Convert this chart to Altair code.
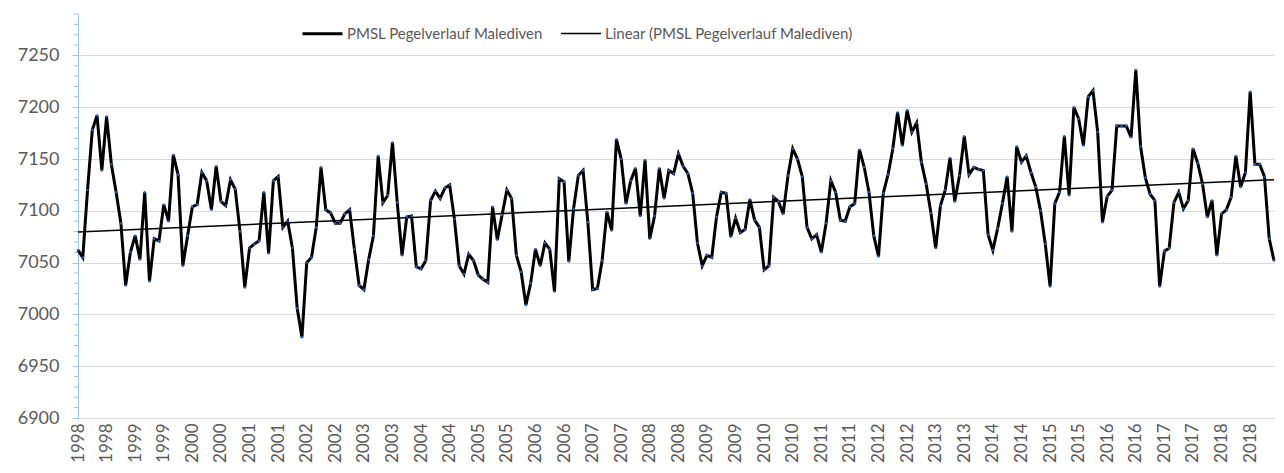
import altair as alt
import pandas as pd

# Monthly mean sea level (PMSL), Maldives, Jan 1998 - Dec 2018
pmsl = [
    7062, 7055, 7120, 7178, 7192, 7139, 7191, 7145, 7118, 7088, 7028, 7060,
    7076, 7053, 7118, 7032, 7073, 7071, 7106, 7090, 7154, 7135, 7047, 7076,
    7104, 7106, 7137, 7129, 7101, 7143, 7109, 7105, 7130, 7121, 7080, 7026,
    7064, 7068, 7071, 7118, 7059, 7129, 7133, 7084, 7090, 7064, 7006, 6978,
    7050, 7055, 7084, 7142, 7101, 7098, 7088, 7088, 7097, 7101, 7063, 7028,
    7024, 7053, 7076, 7153, 7108, 7115, 7166, 7108, 7057, 7094, 7095, 7046,
    7044, 7052, 7110, 7119, 7112, 7122, 7125, 7092, 7047, 7039, 7058, 7052,
    7038, 7034, 7031, 7104, 7072, 7096, 7120, 7112, 7057, 7041, 7009, 7030,
    7063, 7047, 7069, 7063, 7022, 7131, 7128, 7051, 7102, 7134, 7139, 7089,
    7024, 7025, 7052, 7099, 7081, 7169, 7150, 7107, 7129, 7141, 7095, 7149,
    7073, 7095, 7141, 7112, 7139, 7136, 7155, 7143, 7136, 7117, 7069, 7047,
    7057, 7055, 7094, 7118, 7117, 7075, 7093, 7079, 7082, 7111, 7091, 7084,
    7043, 7047, 7113, 7109, 7097, 7134, 7160, 7150, 7133, 7084, 7073, 7077,
    7060, 7088, 7129, 7118, 7091, 7090, 7104, 7107, 7159, 7142, 7118, 7076,
    7056, 7117, 7135, 7160, 7195, 7163, 7197, 7176, 7185, 7147, 7126, 7098,
    7064, 7105, 7120, 7151, 7109, 7134, 7172, 7135, 7142, 7140, 7139, 7077,
    7062, 7083, 7107, 7133, 7080, 7162, 7147, 7153, 7137, 7123, 7100, 7068,
    7027, 7107, 7118, 7172, 7115, 7200, 7189, 7163, 7210, 7216, 7176, 7089,
    7114, 7120, 7182, 7182, 7182, 7171, 7236, 7162, 7132, 7116, 7110, 7027,
    7061, 7064, 7108, 7118, 7102, 7110, 7160, 7146, 7126, 7094, 7110, 7057,
    7097, 7101, 7113, 7153, 7123, 7137, 7215, 7145, 7145, 7133, 7073, 7052,
]

tick_labels = [
    "1998", "1998", "1999", "1999", "2000", "2000", "2001", "2001",
    "2002", "2002", "2003", "2003", "2004", "2004", "2005", "2005",
    "2006", "2006", "2007", "2007", "2008", "2008", "2009", "2009",
    "2010", "2010", "2011", "2011", "2012", "2012", "2013", "2013",
    "2014", "2014", "2015", "2015", "2016", "2016", "2017", "2017",
    "2018", "2018",
]

y_ticks = [6900, 6950, 7000, 7050, 7100, 7150, 7200, 7250]
series_names = ["PMSL Pegelverlauf Malediven", "Linear (PMSL Pegelverlauf Malediven)"]

FONT = "Lato"
AXIS_BLUE = "#9DC3E6"
GRID = "#D9D9D9"
TEXT = "#595959"

n = len(pmsl)
df = pd.DataFrame({"idx": list(range(n)), "pmsl": pmsl, "series": series_names[0]})
minor_df = pd.DataFrame({"v": [v for v in range(6900, 7291, 10) if v % 50 != 0]})

label_array = "[" + ",".join(f"'{t}'" for t in tick_labels) + "]"

x_scale = alt.Scale(domain=[0, n - 1], nice=False, zero=False, padding=0)
x_axis = alt.Axis(
    values=list(range(0, n, 6)),
    labelExpr=f"{label_array}[round(datum.value / 6)]",
    title=None,
    labelAngle=270,
    labelFont=FONT,
    labelFontSize=17,
    labelColor=TEXT,
    labelPadding=5,
    ticks=False,
    grid=False,
    domainColor=GRID,
    domainWidth=1,
    labelOverlap=False,
    labelBound=False,
    labelFlush=False,
)

y_scale = alt.Scale(domain=[6900, 7290], nice=False, zero=False)
y_axis = alt.Axis(
    values=y_ticks,
    format="d",
    title=None,
    grid=True,
    gridColor=GRID,
    gridWidth=1,
    domainColor=AXIS_BLUE,
    domainWidth=1,
    tickColor=AXIS_BLUE,
    tickSize=6,
    labelFont=FONT,
    labelFontSize=18,
    labelColor=TEXT,
    labelPadding=13,
    labelOverlap=False,
    labelFlush=False,
)

color = alt.Color(
    "series:N",
    scale=alt.Scale(domain=series_names, range=["#000000", "#000000"]),
    legend=alt.Legend(
        title=None,
        orient="none",
        legendX=223,
        legendY=-2,
        direction="horizontal",
        symbolType="stroke",
        symbolSize=1600,
        labelFont=FONT,
        labelFontSize=15,
        labelColor=TEXT,
        labelOffset=3,
        labelLimit=0,
        columnPadding=14,
    ),
)
stroke_w = alt.StrokeWidth(
    "series:N",
    scale=alt.Scale(domain=series_names, range=[3, 1.5]),
    legend=alt.Legend(title=None),
)

base = alt.Chart(df)

data_line = base.mark_line().encode(
    x=alt.X("idx:Q", scale=x_scale, axis=x_axis),
    y=alt.Y("pmsl:Q", scale=y_scale, axis=y_axis),
    color=color,
    strokeWidth=stroke_w,
)

markers = base.mark_circle(size=6, color="#2E5AA8", opacity=1).encode(
    x=alt.X("idx:Q", scale=x_scale, axis=x_axis),
    y=alt.Y("pmsl:Q", scale=y_scale, axis=y_axis),
)

trend = (
    base.transform_regression("idx", "pmsl", method="linear")
    .transform_calculate(series=f"'{series_names[1]}'")
    .mark_line()
    .encode(
        x=alt.X("idx:Q", scale=x_scale, axis=x_axis),
        y=alt.Y("pmsl:Q", scale=y_scale, axis=y_axis),
        color=color,
        strokeWidth=stroke_w,
    )
)

minor_ticks = alt.Chart(minor_df).mark_rule(color=AXIS_BLUE, strokeWidth=1).encode(
    y=alt.Y("v:Q", scale=y_scale, axis=y_axis),
    x=alt.value(-4),
    x2=alt.value(0),
)

chart = (
    alt.layer(minor_ticks, data_line, trend, markers)
    .properties(
        width=1196,
        height=404,
        autosize=alt.AutoSizeParams(type="none"),
        padding={"left": 70, "top": 6, "right": 2, "bottom": 47},
        background="white",
    )
    .configure_view(stroke=None)
)

chart.save("out.html", embed_options={"renderer": "svg", "actions": False})
